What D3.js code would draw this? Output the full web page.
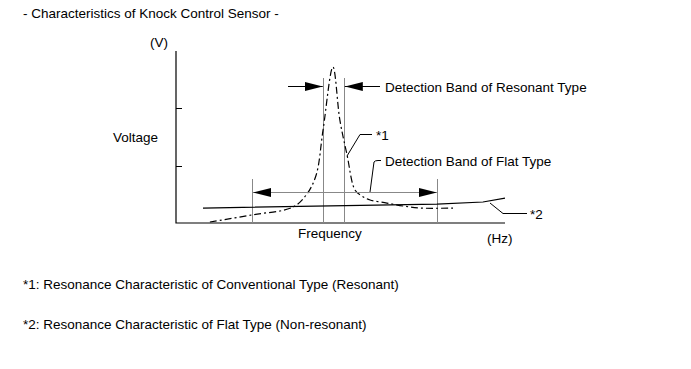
<!DOCTYPE html>
<html>
<head>
<meta charset="utf-8">
<script src="https://cdn.jsdelivr.net/npm/d3@7"></script>
<style>
  body { margin: 0; background: #fff; }
  text { font-family: "Liberation Sans", Arial, sans-serif; font-size: 13.5px; fill: #000; }
</style>
</head>
<body>
<div id="chart"></div>
<script>
// frequency / voltage in arbitrary units (0-100)
const resonantFreq = [10.3, 23.1, 35.6, 39.8, 42.6, 44.7, 47.7, 49.8, 52.0, 54.4, 56.5, 59.0, 64.1, 69.0, 74.2, 84.2];
const resonantVolt = [0.6, 4.7, 9.3, 16.9, 27.9, 54.1, 90.7, 59.9, 39.5, 19.2, 15.7, 13.4, 11.6, 9.9, 8.7, 8.7];
const flatFreq = [8.2, 79.3, 93.3, 100];
const flatVolt = [8.7, 11.0, 12.2, 14.5];
const resonantBand = [44.6, 51.0];
const flatBand = [23.1, 79.3];
const yTicks = [33.3, 66.7];

const width = 691, height = 369;
const svg = d3.select("#chart").append("svg")
    .attr("width", width)
    .attr("height", height);

const x = d3.scaleLinear().domain([0, 100]).range([176, 505]);
const y = d3.scaleLinear().domain([0, 100]).range([223, 51]);

svg.append("defs").append("marker")
    .attr("id", "head")
    .attr("viewBox", "0 0 18 9")
    .attr("refX", 18).attr("refY", 4.5)
    .attr("markerWidth", 18).attr("markerHeight", 9)
    .attr("markerUnits", "userSpaceOnUse")
    .attr("orient", "auto")
    .append("path").attr("d", "M0,0L18,4.5L0,9Z").attr("fill", "#000");

// axes
svg.append("path")
    .attr("d", `M${x(0)},${y(100)}V${y(0)}H${x(100)}`)
    .attr("fill", "none").attr("stroke", "#000").attr("stroke-width", 1.2);
svg.selectAll(".ytick").data(yTicks).enter().append("line")
    .attr("x1", x(0)).attr("x2", x(0) + 6)
    .attr("y1", d => Math.round(y(d)) + 0.5).attr("y2", d => Math.round(y(d)) + 0.5)
    .attr("stroke", "#000");

// band verticals
const bandTop = { r: 78, f: 179 };
svg.selectAll(".rband").data(resonantBand).enter().append("line")
    .attr("x1", d => Math.round(x(d)) + 0.5).attr("x2", d => Math.round(x(d)) + 0.5)
    .attr("y1", bandTop.r).attr("y2", y(0))
    .attr("stroke", "#888");
svg.selectAll(".fband").data(flatBand).enter().append("line")
    .attr("x1", d => Math.round(x(d)) + 0.5).attr("x2", d => Math.round(x(d)) + 0.5)
    .attr("y1", bandTop.f).attr("y2", y(0))
    .attr("stroke", "#888");

// curves
const line = d3.line().x(d => x(d[0])).y(d => y(d[1]));
svg.append("path")
    .datum(flatFreq.map((f, i) => [f, flatVolt[i]]))
    .attr("d", line)
    .attr("fill", "none").attr("stroke", "#000").attr("stroke-width", 1.2);
svg.append("path")
    .datum(resonantFreq.map((f, i) => [f, resonantVolt[i]]))
    .attr("d", line.curve(d3.curveCatmullRom.alpha(0.5)))
    .attr("fill", "none").attr("stroke", "#000").attr("stroke-width", 1.2)
    .attr("stroke-dasharray", "7,3,2,3");

// resonant band arrows
const ry = 86.5;
svg.append("line")
    .attr("x1", 288).attr("x2", x(resonantBand[0]))
    .attr("y1", ry).attr("y2", ry)
    .attr("stroke", "#000").attr("marker-end", "url(#head)");
svg.append("line")
    .attr("x1", 380).attr("x2", x(resonantBand[1]) + 1)
    .attr("y1", ry).attr("y2", ry)
    .attr("stroke", "#000").attr("marker-end", "url(#head)");
svg.append("text").attr("x", 385).attr("y", ry + 5).text("Detection Band of Resonant Type");

// flat band arrows
const fy = 192.5;
const fmid = (x(flatBand[0]) + x(flatBand[1])) / 2;
svg.append("line")
    .attr("x1", fmid).attr("x2", x(flatBand[0]) + 1)
    .attr("y1", fy).attr("y2", fy)
    .attr("stroke", "#888").attr("marker-end", "url(#head)");
svg.append("line")
    .attr("x1", fmid).attr("x2", x(flatBand[1]))
    .attr("y1", fy).attr("y2", fy)
    .attr("stroke", "#888").attr("marker-end", "url(#head)");

// leaders
svg.append("path").attr("d", "M370,192L374,162Q375,160.5,378,160.5H381")
    .attr("fill", "none").attr("stroke", "#000");
svg.append("text").attr("x", 385).attr("y", 165.5).text("Detection Band of Flat Type");

svg.append("path").attr("d", "M347,156L360,134.5H372")
    .attr("fill", "none").attr("stroke", "#000");
svg.append("text").attr("x", 376).attr("y", 139.5).text("*1");

svg.append("path").attr("d", "M490,203L503,213.5H527")
    .attr("fill", "none").attr("stroke", "#000");
svg.append("text").attr("x", 530).attr("y", 218.5).text("*2");

// labels
svg.append("text").attr("x", 23).attr("y", 18).text("- Characteristics of Knock Control Sensor -");
svg.append("text").attr("x", 150).attr("y", 47).text("(V)");
svg.append("text").attr("x", 113).attr("y", 142).text("Voltage");
svg.append("text").attr("x", 298).attr("y", 238).text("Frequency");
svg.append("text").attr("x", 487).attr("y", 243).text("(Hz)");
svg.append("text").attr("x", 23).attr("y", 289).text("*1: Resonance Characteristic of Conventional Type (Resonant)");
svg.append("text").attr("x", 23).attr("y", 329).text("*2: Resonance Characteristic of Flat Type (Non-resonant)");
</script>
</body>
</html>
